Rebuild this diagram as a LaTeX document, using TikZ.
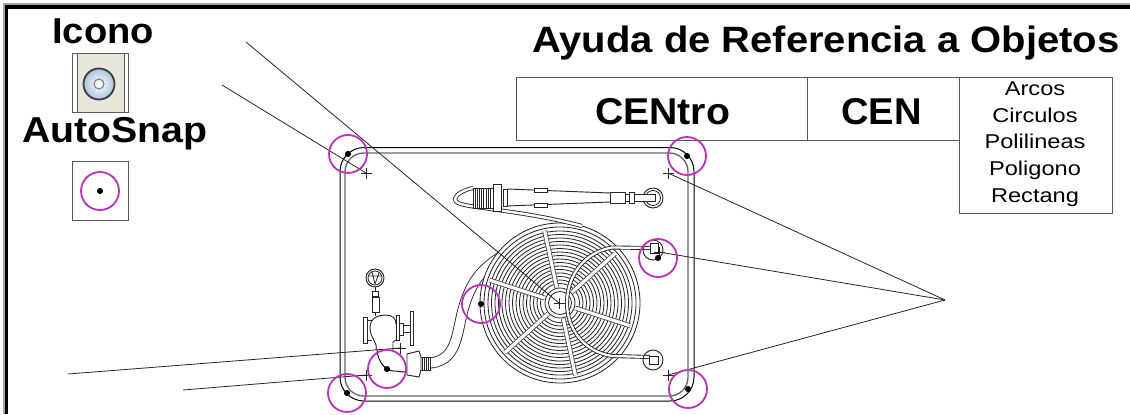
\documentclass[tikz,border=0pt]{standalone}
\usepackage{fontspec}
\setmainfont{Liberation Sans}
\usepackage{xcolor}
\definecolor{snapcolor}{HTML}{C030C0}
\definecolor{iconback}{HTML}{E9E6DC}
\definecolor{iconblue}{HTML}{A9C4DC}
\newcommand{\widetext}[2]{\scalebox{#1}[1]{#2}}
\begin{document}
\begin{tikzpicture}[
    x=0.75pt,
    y=-0.75pt,
    outline/.style={draw=black!85, line width=0.7pt},
    leader/.style={draw=black!85, line width=0.6pt},
    ring/.style={draw=black!85, line width=0.62pt},
    hose/.style={draw=black!85, line width=0.65pt, double=white},
    spoke/.style={draw=black!70, line width=0.6pt, double=white, double distance=2.4pt},
    tablebox/.style={draw=black!65, line width=0.6pt},
    snapring/.style={circle, draw=snapcolor, line width=1.35pt, minimum size=28.5pt, inner sep=0pt},
    snapdot/.style={circle, fill=black, minimum size=4.6pt, inner sep=0pt},
    heading/.style={font=\bfseries\fontsize{27}{27}\selectfont, anchor=base west, inner sep=0pt},
    listing/.style={font=\fontsize{15}{20}\selectfont, align=center, inner sep=0pt}
]
    \useasboundingbox (0,0) rectangle (1130,414);

    % Page frame
    \draw [black!35, line width=4pt] (5.5,414) -- (5.5,6) -- (1130,6);
    \draw [black, line width=2.6pt] (6.5,414) -- (6.5,7) -- (1130,7);

    % Titles
    \node [heading] (icono) at (52,43) {\widetext{1.06}{Icono}};
    \node [heading] (autosnap) at (22,142) {\widetext{1.09}{AutoSnap}};
    \node [heading] (title) at (532,52) {\widetext{1.09}{\fontsize{27.5}{27.5}\selectfont Ayuda de Referencia a Objetos}};

    % Reference table
    \draw [tablebox] (516,77) rectangle (807,140);
    \draw [tablebox] (807,77) rectangle (959,140);
    \draw [tablebox] (959,77) rectangle (1112,213);
    \node [heading, anchor=base] (fullname) at (662.5,124) {\widetext{1.05}{\fontsize{28}{28}\selectfont CENtro}};
    \node [heading, anchor=base] (shortname) at (881.5,124) {\widetext{1.02}{\fontsize{28}{28}\selectfont CEN}};
    \node [listing] (objects) at (1035,144) {\widetext{1.18}{Arcos}\\\widetext{1.18}{Circulos}\\\widetext{1.18}{Polilineas}\\\widetext{1.18}{Poligono}\\\widetext{1.18}{Rectang}};

    % Icon button
    \draw [tablebox, fill=white] (72,53) rectangle (128,112);
    \draw [tablebox, fill=iconback] (77,53) rectangle (124,112);
    \draw [black!75, line width=1.4pt, inner color=white, outer color=iconblue] (99,84) circle (15.5);
    \draw [black!50, line width=0.8pt] (99,84) circle (5);

    % AutoSnap sample
    \draw [tablebox] (72,161) rectangle (128,220);
    \node [snapring] (snapsample) at (100,191) {};
    \node [snapdot] (dotsample) at (100,191) {};

    % Cabinet
    \draw [draw=black, line width=0.75pt, rounded corners=18pt] (340,147.5) rectangle (694,401);
    \draw [draw=black!60, line width=1pt, rounded corners=14pt] (345,153) rectangle (688,396);

    % Hose from the valve
    \draw [hose, double distance=7pt] (430,363) .. controls (462,360) and (455,325) .. (468,295) .. controls (475,278) and (484,266) .. (512,250);

    % Reel
    \draw [ring, fill=white] (560,303) circle (80);
    \draw [ring] (560,303) circle (76);
    \foreach \rad in {72,68.5,...,18}
        \draw [ring] (560,303) circle (\rad);
    \foreach \ang in {18,78,138,198,258,318}
        \draw [spoke] ({560+16*cos(\ang)},{303+16*sin(\ang)}) -- ({560+74*cos(\ang)},{303+74*sin(\ang)});
    \draw [ring, fill=white] (560,303) circle (15);
    \draw [ring] (560,303) circle (11.5);

    % Hose inside the reel
    \draw [hose, double distance=1.7pt] (650,248) -- (612,247.5) .. controls (585,252) and (567,275) .. (567,303) .. controls (567,330) and (585,352) .. (612,356) -- (650,357);

    % Nozzle end of the hose
    \draw [hose, double distance=1.8pt] (582,226) .. controls (540,215) and (510,212) .. (470,206) .. controls (458,204) and (455,202) .. (455,199) .. controls (456,194) and (464,190) .. (473,188);
    \draw [outline, fill=white] (473,188) rectangle (493,208);
    \foreach \xpos in {475,477.2,...,492}
        \draw [ring] (\xpos,188) -- (\xpos,208);
    \draw [outline, fill=white] (493,184) rectangle (501,211);
    \draw [outline, fill=white] (503,189) rectangle (507,206);
    \draw [outline] (507,189) -- (610,193);
    \draw [outline] (507,206) -- (610,202);
    \draw [outline, fill=white] (534,188) rectangle (547,192);
    \draw [outline, fill=white] (534,203) rectangle (547,207);
    \draw [outline, fill=white] (610,192) rectangle (625,203);
    \draw [outline, fill=white] (629,192) rectangle (634,203);
    \draw [outline] (625,194) -- (629,194) (625,201) -- (629,201);
    \draw [outline] (653,198) circle (10);
    \draw [ring] (653,198) circle (7.5);
    \draw [outline, fill=white] (634,194) rectangle (655,201);

    % Hose holders on the right
    \draw [outline] (653,250) circle (10);
    \draw [outline, fill=white] (650,243) rectangle (658,253);
    \draw [outline] (653,360) circle (10);
    \draw [outline, fill=white] (649,356) rectangle (658,364);

    % Valve
    \draw [outline] (375,278) circle (9);
    \draw [ring] (375,278) circle (7);
    \draw [ring] (375,284) -- (372,272) (375,284) -- (379,273) (368,276) -- (382,276);
    \draw [outline] (375,287) -- (375,291);
    \draw [outline] (372,291) rectangle (378,296);
    \draw [outline] (372,297) rectangle (379,312);
    \draw [outline] (375,312) -- (375,316);
    \draw [outline] (376,350) .. controls (378,342) and (370,338) .. (370,328) .. controls (370,318) and (378,315) .. (385,315) .. controls (392,315) and (396,318) .. (396,324);
    \draw [outline] (396,340) -- (393,342) -- (393,350);
    \draw [outline, fill=white] (363,317) rectangle (367,343);
    \draw [outline] (367,320) -- (372,320) (367,340) -- (372,340);
    \draw [outline, fill=white] (396,315) rectangle (399,340);
    \draw [outline, fill=white] (399,323) rectangle (403,335);
    \draw [outline, fill=white] (403,325) rectangle (410,332);
    \draw [outline, fill=white] (410,311) rectangle (413,345);
    \draw [draw=black, line width=0.7pt] (377,350) .. controls (378,362) and (386,372) .. (395,371) .. controls (400,371) and (403,373) .. (407,372);

    % Hose coupling at the valve
    \draw [outline, fill=white] (420,357) rectangle (430,370);
    \foreach \xpos in {422,424,426,428}
        \draw [ring] (\xpos,357) -- (\xpos,370);
    \draw [outline, fill=white] (407,354) -- (419,351) -- (421,357) -- (421,370) -- (419,377) -- (407,375) -- cycle;

    % Snap target crosses and free ends
    \foreach \crossname/\xpos/\ypos in {crossA/366/173, crossB/668/173, crossC/659/252, crossD/668/375, crossE/366/375, crossF/400/348, crossG/559/303} {
        \coordinate (\crossname) at (\xpos,\ypos);
        \draw [leader] ({\xpos-5.5},\ypos) -- ({\xpos+5.5},\ypos) (\xpos,{\ypos-5.5}) -- (\xpos,{\ypos+5.5});
    }
    \coordinate (endA) at (246,42);
    \coordinate (endB) at (222,85);
    \coordinate (endC) at (945,300);
    \coordinate (endD) at (68,374);
    \coordinate (endE) at (183,390);

    % Leader lines
    \draw [leader] (endA) -- (crossG);
    \draw [leader] (endB) -- (crossA);
    \draw [leader] (endC) -- (crossB);
    \draw [leader] (endC) -- (crossC);
    \draw [leader] (endC) -- (crossD);
    \draw [leader] (endD) -- (crossF);
    \draw [leader] (endE) -- (crossE);

    % Snap markers
    \foreach \snapname/\xpos/\ypos in {snapA/348/154, snapB/687/156, snapC/658/258, snapD/688/389, snapE/347/393, snapF/387/369, snapG/481/304} {
        \node [snapring] (\snapname) at (\xpos,\ypos) {};
        \node [snapdot] (\snapname dot) at (\xpos,\ypos) {};
    }
\end{tikzpicture}
\end{document}
